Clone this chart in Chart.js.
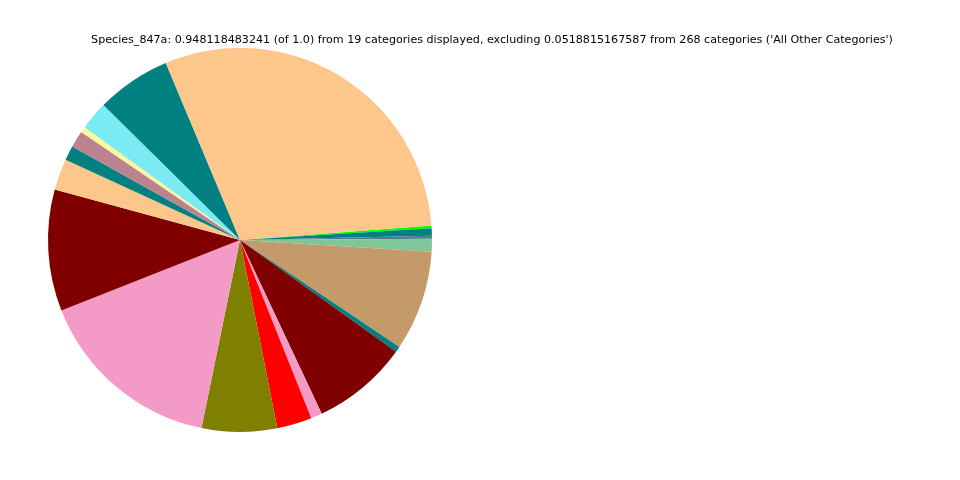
<!DOCTYPE html>
<html>
<head>
<meta charset="utf-8">
<script src="https://cdn.jsdelivr.net/npm/chart.js@4"></script>
<style>
  html, body { margin: 0; padding: 0; background: #fff; }
  #wrap { width: 960px; height: 480px; position: relative; }
</style>
</head>
<body>
<div id="wrap"><canvas id="chart"></canvas></div>
<script>
// slices in matplotlib order (counter-clockwise)
const categories = [
  "Cat 1", "Cat 2", "Cat 3", "Cat 4", "Cat 5", "Cat 6", "Cat 7", "Cat 8", "Cat 9", "Cat 10",
  "Cat 11", "Cat 12", "Cat 13", "Cat 14", "Cat 15", "Cat 16", "Cat 17", "Cat 18", "Cat 19"
];
const values = [
  0.2858, 0.0595, 0.0229, 0.0047, 0.0134, 0.0116, 0.0250, 0.0969, 0.1499, 0.0600,
  0.0279, 0.0090, 0.0769, 0.0045, 0.0801, 0.0103, 0.0024, 0.0058, 0.0021
];
const colors = [
  "#fdc68a", "#008080", "#7aebf2", "#fff799", "#bc8290", "#008080", "#fdc68a", "#800000", "#f49ac6", "#808000",
  "#ff0000", "#f49ac6", "#800000", "#008080", "#c49a6a", "#7fc79a", "#4a7f8c", "#008080", "#00ff00"
];
const titleText = "Species_847a: 0.948118483241 (of 1.0) from 19 categories displayed, excluding 0.0518815167587 from 268 categories ('All Other Categories')";

// Chart.js draws clockwise, so reverse the order
const cwLabels = categories.slice().reverse();
const cwValues = values.slice().reverse();
const cwColors = colors.slice().reverse();

const titlePlugin = {
  id: "plainTitle",
  afterDraw(chart) {
    const ctx = chart.ctx;
    ctx.save();
    ctx.font = "11.12px 'DejaVu Sans'";
    ctx.fillStyle = "#000";
    ctx.textAlign = "center";
    ctx.textBaseline = "middle";
    ctx.fillText(titleText, 492, 40);
    ctx.restore();
  }
};

const ctx = document.getElementById("chart").getContext("2d");
new Chart(ctx, {
  type: "pie",
  data: {
    labels: cwLabels,
    datasets: [{
      data: cwValues,
      backgroundColor: cwColors,
      borderWidth: 0
    }]
  },
  options: {
    responsive: true,
    maintainAspectRatio: false,
    animation: false,
    rotation: 85.7,
    layout: {
      padding: { left: 48, top: 48, right: 528, bottom: 48 }
    },
    plugins: {
      legend: { display: false },
      tooltip: { enabled: false }
    }
  },
  plugins: [titlePlugin]
});
</script>
</body>
</html>
